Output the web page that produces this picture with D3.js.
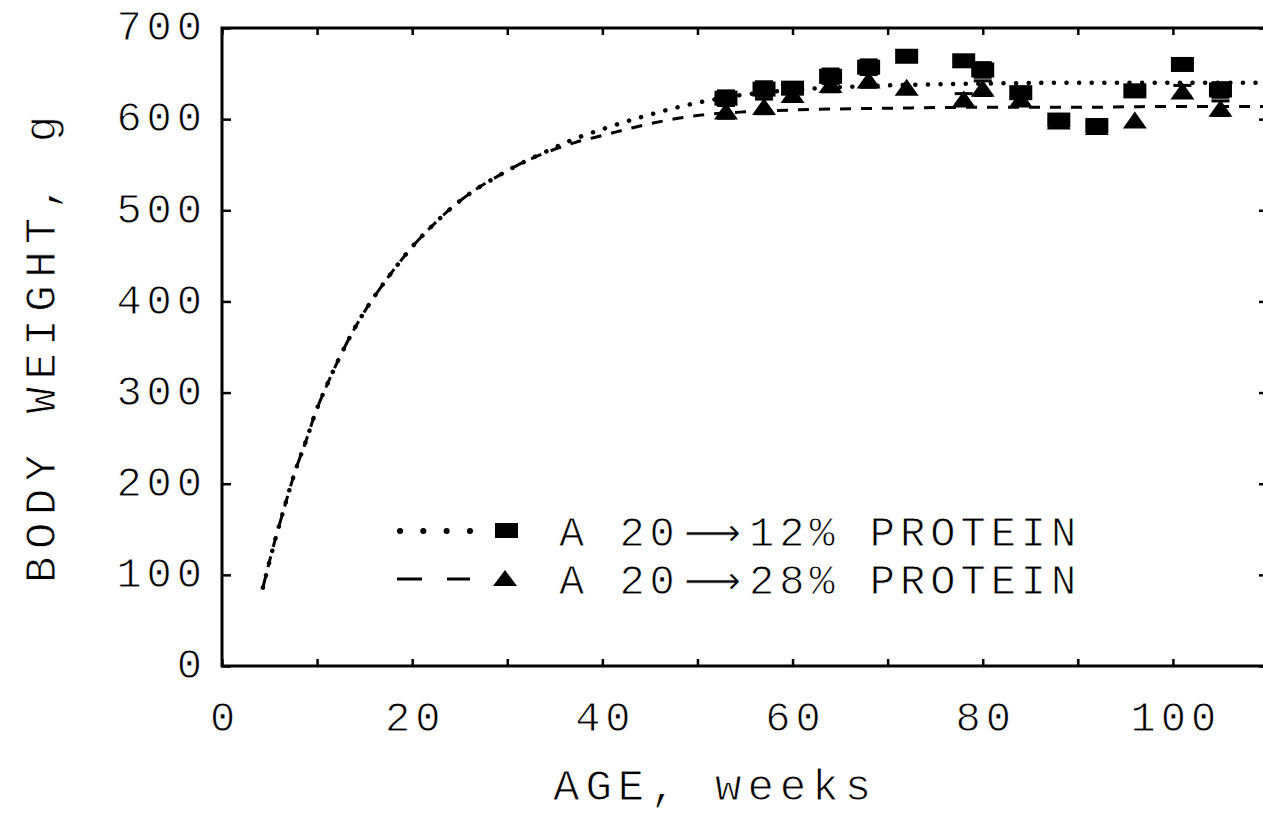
<!DOCTYPE html>
<html>
<head>
<meta charset="utf-8">
<script src="https://cdn.jsdelivr.net/npm/d3@7"></script>
<style>
  html, body { margin: 0; padding: 0; background: #fff; }
  svg { display: block; }
  text { font-family: "Liberation Mono", "DejaVu Sans Mono", monospace; fill: #000; stroke: #fff; stroke-width: 0.9px; }
</style>
</head>
<body>
<svg id="chart" width="1263" height="816"></svg>
<script>
// ---- data ----
const xTicks = [0, 10, 20, 30, 40, 50, 60, 70, 80, 90, 100, 110];
const xTickLabels = ["0", "", "20", "", "40", "", "60", "", "80", "", "100", ""];
const yTicks = [0, 100, 200, 300, 400, 500, 600, 700];
const yTickLabels = ["0", "100", "200", "300", "400", "500", "600", "700"];

const weeks = [53, 57, 60, 64, 68, 72, 78, 80, 84, 88, 92, 96, 101, 105];
const lowProtein = [623, 633, 634, 647, 657, 669, 664, 654, 629, 599, 593, 631, 660, 632];
const lowProteinErr = [8, 8, 6, 8, 8, 0, 0, 8, 6, 0, 0, 6, 0, 8];
const highProtein = [609, 614, 627, 638, 643, 635, 622, 634, 622, 598, 592, 599, 631, 612];
const highProteinErr = [8, 8, 6, 8, 8, 0, 6, 8, 6, 0, 0, 0, 6, 8];

const curveWeeks = [4.3, 5.5, 6.5, 7.8, 8.8, 9.9, 10.9, 12.2, 13.2, 14.3, 15.3, 16.4, 17.5, 18.6, 19.6, 20.7, 22.3, 24.4, 26.7, 28.6, 31, 34, 37, 40, 45, 50, 55, 60, 70, 80, 90, 100, 110];
const lowCurve  = [86, 135, 172, 217, 246, 280, 305, 335, 356, 377, 394, 411, 427, 442, 455, 468, 485, 505, 523, 535, 549, 564, 578, 589, 605, 618, 627, 632, 637, 639, 640, 640, 640];
const highCurve = [86, 135, 172, 217, 246, 280, 305, 335, 356, 377, 394, 411, 427, 442, 455, 468, 485, 505, 523, 535, 549, 563, 574, 582, 595, 604, 608, 610, 612, 613, 613, 614, 614];

const legendLabels = [["A 20", "\u27F6", "12% PROTEIN"], ["A 20", "\u27F6", "28% PROTEIN"]];
const xTitle = "AGE, weeks";
const yTitle = "BODY WEIGHT, g";

// ---- drawing ----
const svg = d3.select("#chart");
const x = d3.scaleLinear().domain([0, 110]).range([222, 1268]);
const y = d3.scaleLinear().domain([0, 700]).range([666, 28]);

const ink = "#000";

// frame
svg.append("path")
  .attr("d", `M${x(110)},${y(700)}H${x(0)}V${y(0)}H${x(110)}V${y(700)}`)
  .attr("fill", "none").attr("stroke", ink).attr("stroke-width", 3);

// axes
function styleAxis(g) {
  g.select(".domain").remove();
  g.selectAll(".tick line").attr("stroke", ink).attr("stroke-width", 2.5);
}
const axBottom = svg.append("g").attr("transform", `translate(0,${y(0)})`)
  .call(d3.axisBottom(x).tickValues(xTicks).tickSizeInner(-7).tickSizeOuter(0)
    .tickFormat((d, i) => xTickLabels[i]));
styleAxis(axBottom);
axBottom.selectAll(".tick text")
  .attr("y", 65).attr("dy", 0)
  .attr("font-size", 42).attr("letter-spacing", 5).attr("font-family", "Liberation Mono")
  .attr("dx", 2.5);

const axTop = svg.append("g").attr("transform", `translate(0,${y(700)})`)
  .call(d3.axisTop(x).tickValues(xTicks).tickSizeInner(-7).tickSizeOuter(0).tickFormat(""));
styleAxis(axTop);

const axLeft = svg.append("g").attr("transform", `translate(${x(0)},0)`)
  .call(d3.axisLeft(y).tickValues(yTicks).tickSizeInner(-9).tickSizeOuter(0)
    .tickFormat((d, i) => yTickLabels[i]));
styleAxis(axLeft);
axLeft.selectAll(".tick text")
  .attr("x", -15).attr("dy", "0.28em")
  .attr("font-size", 42).attr("letter-spacing", 5).attr("font-family", "Liberation Mono");

const axRight = svg.append("g").attr("transform", `translate(${x(110)},0)`)
  .call(d3.axisRight(y).tickValues(yTicks).tickSizeInner(-9).tickSizeOuter(0).tickFormat(""));
styleAxis(axRight);

// fitted curves
const line = d3.line().x((d, i) => x(curveWeeks[i])).y(d => y(d)).curve(d3.curveMonotoneX);
svg.append("path").datum(highCurve).attr("d", line)
  .attr("fill", "none").attr("stroke", ink).attr("stroke-width", 3)
  .attr("stroke-dasharray", "11,10");
svg.append("path").datum(lowCurve).attr("d", line)
  .attr("fill", "none").attr("stroke", ink).attr("stroke-width", 4.5)
  .attr("stroke-linecap", "round").attr("stroke-dasharray", "0.1,12.5");

// markers
const sqW = 23, sqH = 15, triW = 24, triH = 17;
function errorBars(vals, errs) {
  const g = svg.append("g").attr("stroke", ink).attr("stroke-width", 3);
  weeks.forEach((w, i) => {
    const e = errs[i];
    if (!e) return;
    const cx = x(w), y1 = y(vals[i] - e), y2 = y(vals[i] + e);
    g.append("line").attr("x1", cx).attr("x2", cx).attr("y1", y1).attr("y2", y2);
    g.append("line").attr("x1", cx - 9).attr("x2", cx + 9).attr("y1", y1).attr("y2", y1);
    g.append("line").attr("x1", cx - 9).attr("x2", cx + 9).attr("y1", y2).attr("y2", y2);
  });
}
errorBars(highProtein, highProteinErr);
errorBars(lowProtein, lowProteinErr);

const triPath = (cx, cy) => `M${cx - triW / 2},${cy + triH / 2}L${cx},${cy - triH / 2}L${cx + triW / 2},${cy + triH / 2}Z`;
svg.append("g").selectAll("path").data(highProtein).join("path")
  .attr("d", (d, i) => triPath(x(weeks[i]), y(d))).attr("fill", ink);
svg.append("g").selectAll("rect").data(lowProtein).join("rect")
  .attr("x", (d, i) => x(weeks[i]) - sqW / 2).attr("y", d => y(d) - sqH / 2)
  .attr("width", sqW).attr("height", sqH).attr("fill", ink);

// legend
const lg = svg.append("g");
const rowY = [531, 579];
lg.append("line").attr("x1", 400).attr("x2", 470).attr("y1", rowY[0]).attr("y2", rowY[0])
  .attr("stroke", ink).attr("stroke-width", 6).attr("stroke-linecap", "round")
  .attr("stroke-dasharray", "0.1,23.2");
lg.append("rect").attr("x", 495).attr("y", rowY[0] - 8).attr("width", 23).attr("height", 15).attr("fill", ink);
lg.append("line").attr("x1", 397).attr("x2", 470).attr("y1", rowY[1]).attr("y2", rowY[1])
  .attr("stroke", ink).attr("stroke-width", 3).attr("stroke-dasharray", "25,25");
lg.append("path").attr("d", `M493,${rowY[1] + 7}L505,${rowY[1] - 9}L517,${rowY[1] + 7}Z`).attr("fill", ink);

legendLabels.forEach((parts, r) => {
  const t = lg.append("text").attr("y", rowY[r] + 15).attr("font-size", 42).attr("letter-spacing", 5);
  t.append("tspan").attr("x", 559).text(parts[0]);
  t.append("tspan").attr("x", 684).attr("font-family", "DejaVu Sans").attr("letter-spacing", 0)
    .attr("font-size", 40).text(parts[1]);
  t.append("tspan").attr("x", 749).text(parts[2]);
});

// axis titles
svg.append("text").attr("x", 553).attr("y", 800)
  .attr("font-size", 44).attr("letter-spacing", 6).text(xTitle);
svg.append("text").attr("transform", "translate(55,583) rotate(-90)")
  .attr("font-size", 44).attr("letter-spacing", 7.5).text(yTitle);
</script>
</body>
</html>
